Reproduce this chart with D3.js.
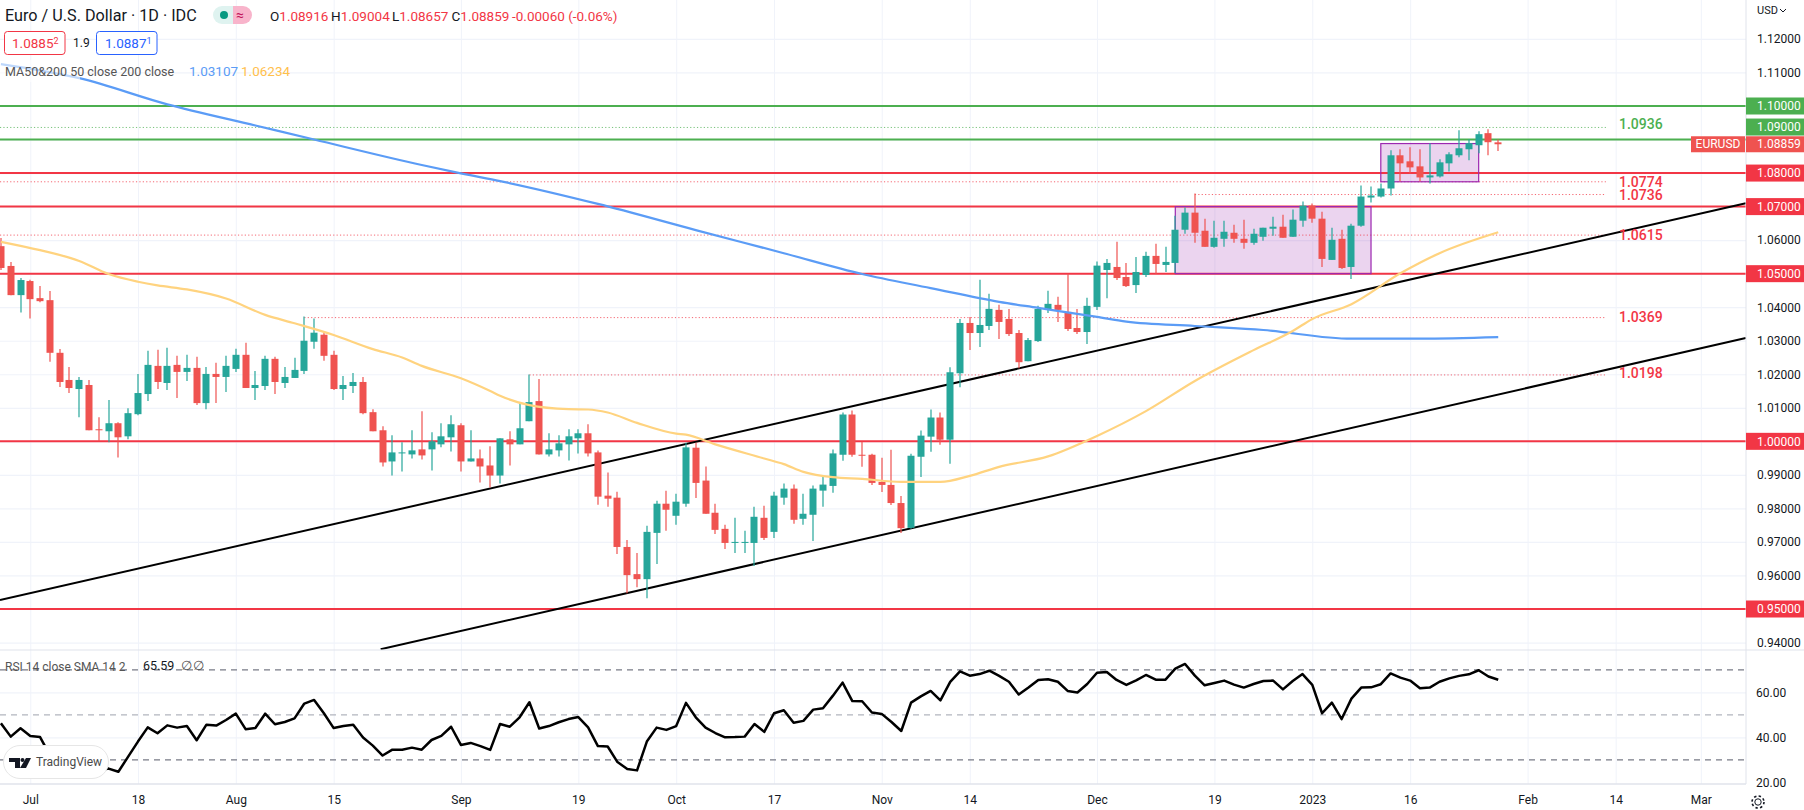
<!DOCTYPE html>
<html>
<head>
<meta charset="utf-8">
<script src="https://cdnjs.cloudflare.com/ajax/libs/d3/7.8.5/d3.min.js"></script>
<style>
html,body{margin:0;padding:0;background:#fff;overflow:hidden}
svg{display:block}
text{font-family:Roboto,"Open Sans",sans-serif}
</style>
</head>
<body>
<svg id="c" width="1804" height="810"></svg>
<script>
// ---------- DATA ----------
const firstBar = -3;           // bars are counted in trading days from 1 Jul 2022
const open = [
1.0582,1.0523,1.0436,1.0478,1.0427,1.0421,1.0264,1.0183,1.0156,1.0168,
1.0036,1.0030,1.0054,1.0015,1.0081,1.0141,1.0225,1.0174,1.0228,1.0207,
1.0219,1.0114,1.0201,1.0192,1.0216,1.0258,1.0159,1.0165,1.0246,1.0174,
1.0189,1.0210,1.0297,1.0318,1.0258,1.0156,1.0165,1.0177,1.0087,1.0033,
0.9940,0.9964,0.9961,0.9976,0.9976,0.9991,1.0012,1.0048,0.9940,0.9949,
0.9928,0.9898,1.0006,0.9991,1.0060,1.0120,0.9961,0.9973,0.9991,1.0009,
1.0024,0.9967,0.9838,0.9832,0.9685,0.9604,0.9589,0.9727,0.9814,0.9778,
0.9814,0.9981,0.9883,0.9787,0.9739,0.9697,0.9697,0.9697,0.9772,0.9730,
0.9832,0.9859,0.9769,0.9781,0.9853,0.9867,0.9960,1.0080,0.9960,0.9960,
0.9879,0.9870,0.9816,0.9742,0.9954,1.0014,1.0071,1.0005,1.0203,1.0353,
1.0323,1.0344,1.0392,1.0365,1.0323,1.0239,1.0299,1.0392,1.0407,1.0386,
1.0338,1.0326,1.0401,1.0511,1.0520,1.0490,1.0466,1.0496,1.0553,1.0526,
1.0532,1.0631,1.0682,1.0628,1.0580,1.0604,1.0622,1.0604,1.0592,1.0610,
1.0634,1.0640,1.0610,1.0658,1.0703,1.0664,1.0541,1.0604,1.0520,1.0643,
1.0727,1.0730,1.0754,1.0853,1.0835,1.0820,1.0787,1.0790,1.0829,1.0853,
1.0871,1.0883,1.0919,1.08916];
const high = [
1.0606,1.0535,1.0487,1.0482,1.0463,1.0448,1.0275,1.0222,1.0192,1.0183,
1.0072,1.0123,1.0057,1.0099,1.0201,1.0270,1.0273,1.0279,1.0255,1.0258,
1.0252,1.0222,1.0234,1.0255,1.0276,1.0294,1.0210,1.0255,1.0252,1.0222,
1.0249,1.0372,1.0366,1.0327,1.0270,1.0195,1.0204,1.0192,1.0096,1.0045,
1.0018,0.9997,1.0033,1.0090,1.0027,1.0054,1.0078,1.0054,1.0033,0.9976,
0.9985,1.0009,1.0030,1.0114,1.0199,1.0186,1.0024,1.0018,1.0036,1.0036,
1.0051,0.9973,0.9907,0.9850,0.9706,0.9667,0.9748,0.9823,0.9853,0.9844,
0.9996,0.9996,0.9925,0.9814,0.9751,0.9772,0.9733,0.9805,0.9808,0.9850,
0.9874,0.9871,0.9844,0.9868,0.9898,0.9976,1.0086,1.0092,0.9999,0.9963,
0.9951,0.9975,0.9837,0.9963,1.0032,1.0095,1.0086,1.0221,1.0365,1.0371,
1.0482,1.0440,1.0407,1.0395,1.0332,1.0308,1.0404,1.0449,1.0431,1.0500,
1.0395,1.0428,1.0536,1.0544,1.0595,1.0532,1.0550,1.0565,1.0589,1.0580,
1.0673,1.0697,1.0739,1.0664,1.0658,1.0658,1.0646,1.0661,1.0634,1.0637,
1.0670,1.0676,1.0691,1.0715,1.0709,1.0685,1.0637,1.0631,1.0649,1.0763,
1.0760,1.0769,1.0868,1.0871,1.0877,1.0871,1.0889,1.0841,1.0862,1.0928,
1.0901,1.0925,1.0931,1.09004];
const low = [
1.0511,1.0436,1.0384,1.0366,1.0415,1.0237,1.0162,1.0144,1.0072,1.0033,
1.0000,0.9997,0.9952,1.0006,1.0078,1.0120,1.0156,1.0153,1.0129,1.0180,
1.0108,1.0096,1.0114,1.0147,1.0207,1.0159,1.0123,1.0153,1.0141,1.0159,
1.0189,1.0201,1.0276,1.0240,1.0153,1.0123,1.0144,1.0081,1.0030,0.9925,
0.9898,0.9910,0.9949,0.9946,0.9913,0.9982,0.9970,0.9910,0.9940,0.9877,
0.9862,0.9874,0.9928,0.9991,1.0060,0.9961,0.9955,0.9955,0.9943,0.9964,
0.9955,0.9811,0.9805,0.9664,0.9547,0.9565,0.9532,0.9634,0.9733,0.9751,
0.9805,0.9831,0.9784,0.9724,0.9679,0.9667,0.9667,0.9628,0.9706,0.9712,
0.9811,0.9754,0.9751,0.9703,0.9805,0.9847,0.9942,0.9954,0.9924,0.9870,
0.9849,0.9810,0.9727,0.9739,0.9894,0.9969,0.9990,0.9933,1.0161,1.0272,
1.0281,1.0332,1.0305,1.0314,1.0218,1.0239,1.0296,1.0383,1.0356,1.0329,
1.0320,1.0290,1.0392,1.0427,1.0481,1.0460,1.0442,1.0490,1.0499,1.0505,
1.0502,1.0619,1.0592,1.0580,1.0577,1.0580,1.0592,1.0574,1.0586,1.0598,
1.0613,1.0607,1.0610,1.0640,1.0652,1.0520,1.0541,1.0514,1.0484,1.0640,
1.0712,1.0727,1.0733,1.0775,1.0799,1.0775,1.0769,1.0787,1.0805,1.0847,
1.0838,1.0859,1.0853,1.08657];
const close = [
1.0517,1.0436,1.0481,1.0424,1.0418,1.0264,1.0177,1.0159,1.0183,1.0033,
1.0033,1.0054,1.0012,1.0084,1.0144,1.0228,1.0177,1.0225,1.0207,1.0219,
1.0114,1.0201,1.0192,1.0225,1.0258,1.0159,1.0168,1.0246,1.0177,1.0192,
1.0213,1.0300,1.0324,1.0255,1.0156,1.0168,1.0177,1.0084,1.0030,0.9937,
0.9967,0.9967,0.9973,0.9958,1.0000,1.0015,1.0051,0.9940,0.9949,0.9925,
0.9898,1.0009,0.9991,1.0039,1.0117,0.9961,0.9976,0.9994,1.0015,1.0024,
0.9964,0.9835,0.9829,0.9685,0.9601,0.9589,0.9730,0.9814,0.9796,0.9820,
0.9982,0.9876,0.9784,0.9736,0.9697,0.9700,0.9700,0.9775,0.9712,0.9838,
0.9859,0.9766,0.9784,0.9859,0.9871,0.9964,1.0080,0.9960,0.9957,0.9876,
0.9870,0.9816,0.9741,0.9957,1.0017,1.0071,1.0005,1.0206,1.0353,1.0323,
1.0347,1.0395,1.0356,1.0320,1.0236,1.0302,1.0395,1.0410,1.0392,1.0335,
1.0326,1.0404,1.0524,1.0532,1.0487,1.0463,1.0505,1.0553,1.0529,1.0535,
1.0631,1.0682,1.0622,1.0580,1.0607,1.0625,1.0604,1.0592,1.0619,1.0637,
1.0640,1.0607,1.0661,1.0703,1.0664,1.0544,1.0601,1.0517,1.0643,1.0730,
1.0733,1.0754,1.0853,1.0829,1.0817,1.0787,1.0793,1.0832,1.0856,1.0874,
1.0889,1.0916,1.0892,1.08859];
const rsi = [
46.2,40.3,44.0,40.6,40.1,32.1,29.2,28.1,28.4,24.7,
25.2,26.1,24.7,31.4,38.1,44.4,41.8,45.3,44.3,45.0,
38.7,45.6,45.2,47.7,50.5,43.6,44.1,50.5,45.8,46.8,
48.4,55.0,56.6,50.7,44.1,45.0,45.6,39.9,36.3,31.9,
34.5,34.5,35.4,34.5,38.8,40.6,44.7,36.6,37.5,36.1,
34.4,45.9,44.7,48.9,55.6,43.9,45.0,46.7,48.1,49.0,
44.4,36.1,35.9,29.0,25.9,25.3,38.1,44.3,43.3,45.0,
55.3,48.9,44.3,41.9,40.0,40.1,40.3,45.9,42.4,50.7,
52.0,46.5,47.3,52.3,52.9,58.4,64.3,56.1,56.0,51.0,
50.4,46.8,42.8,55.4,58.2,60.6,56.4,64.6,69.3,67.4,
68.1,69.6,67.3,64.7,59.0,62.1,65.5,65.8,64.7,60.6,
59.9,63.7,68.7,69.0,65.5,63.3,65.3,67.7,65.6,65.6,
70.5,72.6,67.4,63.1,64.1,65.2,63.4,62.1,63.7,65.0,
65.2,61.3,65.0,68.1,63.3,50.7,55.4,48.1,57.2,62.1,
62.2,63.6,68.4,66.5,65.2,61.8,62.1,64.7,66.2,67.3,
68.0,69.8,67.0,65.59];

const ma200Bars = [-3,5,14,23,29,40,44,48,58,68,77,85,92,99,103,109,112,119,126,135,142,150];
const ma200 = [1.1125,1.1083,1.1005,1.0942,1.0900,1.0824,1.0799,1.0776,1.0708,1.0630,1.0561,1.0499,1.0457,1.0416,1.0398,1.0371,1.0357,1.0344,1.0332,1.0306,1.0306,1.03107];
const ma50Bars = [-3,1,5,8,11,13,16,20,24,27,31,35,38,40,44,47,48,51,55,57,59,62,66,67,70,75,77,79,82,85,89,93,96,99,104,109,114,119,125,129,131,135,140,144,150];
const ma50 = [1.0595,1.0570,1.0538,1.0499,1.0476,1.0465,1.0453,1.0426,1.0377,1.0352,1.0317,1.0275,1.0250,1.0225,1.0188,1.0150,1.0136,1.0108,1.0096,1.0095,1.0086,1.0055,1.0023,1.0020,0.9991,0.9949,0.9932,0.9909,0.9893,0.9888,0.9879,0.9879,0.9897,0.9924,0.9955,1.0016,1.0090,1.0180,1.0272,1.0329,1.0365,1.0409,1.0501,1.0561,1.06234];

const redLevels = [1.08,1.07,1.05,1.00,0.95];
const greenLevels = [1.10,1.09];
const dottedLevels = [1.0936,1.0774,1.0736,1.0615,1.0369,1.0198];
const dottedStartBars = [-3.1,-3.1,119,-3.1,28,51];
const dottedEndBar = 161;
const dottedColors = ["#4caf50","#f23645","#f23645","#f23645","#f23645","#f23645"];
const labelNudge = [-3,0,1,0,0,-2];
const trendBars = [[-3.1,175.3],[35.8,175.3]];
const trendPrices = [[0.9527,1.0710],[0.9380,1.0308]];
const zoneBars = [[117,137],[138,148]];
const zonePrices = [[1.07,1.05],[1.0888,1.0774]];

const priceTicks = d3.range(94,113).map(d=>d/100);
const boxedTicks = [1.10,1.09,1.08,1.07,1.05,1.00,0.95];
const rsiTicks = [60,40,20];
const rsiBands = [70,50,30];
const timeBars = [0,11,21,31,44,56,66,76,87,96,109,121,131,141,153,162,170.7];
const timeLabels = ["Jul","18","Aug","15","Sep","19","Oct","17","Nov","14","Dec","19","2023","16","Feb","14","Mar"];
const lastPrice = 1.08859;

// ---------- SCALES ----------
const svg = d3.select("#c");
const W=1804,H=810,axisX=1746,paneBot=650,rsiBot=784;
const x = d3.scaleLinear().domain([0,131]).range([30.3,1312.3]);
const y = d3.scaleLinear().domain([0.95,1.10]).range([609,106]);
const yr = d3.scaleLinear().domain([40,60]).range([737.3,692.3]);
const RED="#f23645",GREEN="#4caf50",UP="#26a69a",DOWN="#ef5350",GRID="#f0f3fa",TXT="#131722";

svg.append("clipPath").attr("id","cm").append("rect").attr("x",0).attr("y",0).attr("width",axisX).attr("height",paneBot);
svg.append("clipPath").attr("id","cr").append("rect").attr("x",0).attr("y",paneBot).attr("width",axisX).attr("height",rsiBot-paneBot);

// grid through axes
const gGrid = svg.append("g");
gGrid.append("g")
  .call(d3.axisRight(y).tickValues(priceTicks).tickSize(axisX).tickFormat(""))
  .call(g=>{g.select(".domain").remove();g.selectAll("line").attr("stroke",GRID).attr("stroke-width",1.2);});
gGrid.append("g")
  .call(d3.axisRight(yr).tickValues([60,40]).tickSize(axisX).tickFormat(""))
  .call(g=>{g.select(".domain").remove();g.selectAll("line").attr("stroke",GRID).attr("stroke-width",1.2);});
gGrid.append("g").attr("transform",`translate(0,${rsiBot})`)
  .call(d3.axisTop(x).tickValues(timeBars).tickSize(rsiBot).tickFormat(""))
  .call(g=>{g.select(".domain").remove();g.selectAll("line").attr("stroke",GRID).attr("stroke-width",1);});

// main pane
const main = svg.append("g").attr("clip-path","url(#cm)");

// zones under candles
main.selectAll(".zone").data(zoneBars).join("rect").attr("class","zone")
  .attr("x",d=>x(d[0])).attr("width",d=>x(d[1])-x(d[0]))
  .attr("y",(d,i)=>y(zonePrices[i][0])).attr("height",(d,i)=>y(zonePrices[i][1])-y(zonePrices[i][0]))
  .attr("fill","rgba(156,39,176,0.2)");

// levels
main.selectAll(".red").data(redLevels).join("line").attr("class","red")
  .attr("x1",0).attr("x2",axisX).attr("y1",d=>y(d)).attr("y2",d=>y(d))
  .attr("stroke",RED).attr("stroke-width",2);
main.selectAll(".green").data(greenLevels).join("line").attr("class","green")
  .attr("x1",0).attr("x2",axisX).attr("y1",d=>y(d)).attr("y2",d=>y(d))
  .attr("stroke",GREEN).attr("stroke-width",2);
main.selectAll(".dot").data(dottedLevels).join("line").attr("class","dot")
  .attr("x1",(d,i)=>x(dottedStartBars[i])).attr("x2",x(dottedEndBar))
  .attr("y1",d=>y(d)).attr("y2",d=>y(d))
  .attr("stroke",(d,i)=>dottedColors[i]).attr("stroke-width",1).attr("stroke-dasharray","1.2,2.2").attr("opacity",0.75);
main.selectAll(".zoneb").data(zoneBars).join("rect").attr("class","zoneb")
  .attr("x",d=>x(d[0])).attr("width",d=>x(d[1])-x(d[0]))
  .attr("y",(d,i)=>y(zonePrices[i][0])).attr("height",(d,i)=>y(zonePrices[i][1])-y(zonePrices[i][0]))
  .attr("fill","none").attr("stroke","#9c27b0").attr("stroke-width",1.2);

// trend lines
main.selectAll(".trend").data(trendBars).join("line").attr("class","trend")
  .attr("x1",d=>x(d[0])).attr("x2",d=>x(d[1]))
  .attr("y1",(d,i)=>y(trendPrices[i][0])).attr("y2",(d,i)=>y(trendPrices[i][1]))
  .attr("stroke","#000").attr("stroke-width",2);

// candles
const bars = d3.range(open.length);
const bx = i=>x(i+firstBar);
main.selectAll(".wick").data(bars).join("line").attr("class","wick")
  .attr("x1",i=>Math.round(bx(i))).attr("x2",i=>Math.round(bx(i)))
  .attr("y1",i=>y(high[i])).attr("y2",i=>y(low[i]))
  .attr("stroke",i=>close[i]>=open[i]?UP:DOWN).attr("stroke-width",1.2);
main.selectAll(".body").data(bars).join("rect").attr("class","body")
  .attr("x",i=>Math.round(bx(i))-3.5).attr("width",7)
  .attr("y",i=>y(Math.max(open[i],close[i])))
  .attr("height",i=>Math.max(1,Math.abs(y(open[i])-y(close[i]))))
  .attr("fill",i=>close[i]>=open[i]?UP:DOWN);

// moving averages
const ln = d3.line().curve(d3.curveMonotoneX);
main.append("path").attr("d",ln(ma200Bars.map((b,i)=>[x(b),y(ma200[i])])))
  .attr("fill","none").attr("stroke","#5b9cf6").attr("stroke-width",2.2);
main.append("path").attr("d",ln(ma50Bars.map((b,i)=>[x(b),y(ma50[i])])))
  .attr("fill","none").attr("stroke","#ffd37f").attr("stroke-width",2.2);

// level labels
main.selectAll(".lvl").data(dottedLevels).join("text").attr("class","lvl")
  .attr("x",1619).attr("y",(d,i)=>y(d)+labelNudge[i]).attr("dy","0.35em")
  .attr("fill",(d,i)=>dottedColors[i]).attr("font-size",14).attr("font-weight",500)
  .text(d=>d.toFixed(4));

// RSI pane
const rsiG = svg.append("g").attr("clip-path","url(#cr)");
rsiG.selectAll(".band").data(rsiBands).join("line").attr("class","band")
  .attr("x1",0).attr("x2",axisX).attr("y1",d=>yr(d)).attr("y2",d=>yr(d))
  .attr("stroke",(d,i)=>i==1?"#b2b5be":"#787b86").attr("stroke-width",1.2).attr("stroke-dasharray","6,5");
rsiG.append("path").attr("d",d3.line().x((d,i)=>bx(i)).y(d=>yr(d))(rsi))
  .attr("fill","none").attr("stroke","#000").attr("stroke-width",2.5).attr("stroke-linejoin","round");

// frame
svg.append("line").attr("x1",axisX).attr("x2",axisX).attr("y1",0).attr("y2",rsiBot).attr("stroke","#e0e3eb");
svg.append("line").attr("x1",0).attr("x2",W).attr("y1",paneBot).attr("y2",paneBot).attr("stroke","#e0e3eb");
svg.append("line").attr("x1",0).attr("x2",axisX).attr("y1",rsiBot).attr("y2",rsiBot).attr("stroke","#e0e3eb").attr("stroke-width",1.5);

// price axis
svg.append("g").attr("transform",`translate(${axisX},0)`)
  .call(d3.axisRight(y).tickValues(priceTicks.filter(t=>!boxedTicks.some(b=>Math.abs(b-t)<1e-9))).tickSize(0).tickPadding(11).tickFormat(d3.format(".5f")))
  .call(g=>{g.select(".domain").remove();g.selectAll("text").attr("font-size",12).attr("fill",TXT).attr("font-family","Roboto");});
const boxOffset = {1.09:-12.5};
const bxG = svg.append("g").selectAll("g").data(boxedTicks).join("g")
  .attr("transform",d=>`translate(${axisX},${y(d)+(boxOffset[d]||0)})`);
bxG.append("rect").attr("x",0).attr("y",-8.5).attr("width",W-axisX).attr("height",17)
  .attr("fill",d=>d>=1.09?GREEN:RED);
bxG.append("text").attr("x",11).attr("dy","0.35em").attr("fill","#fff").attr("font-size",12).text(d=>d3.format(".5f")(d));
const lp = svg.append("g").attr("transform",`translate(0,${y(lastPrice)})`);
lp.append("rect").attr("x",1691).attr("y",-8).attr("width",54).attr("height",16).attr("fill",DOWN);
lp.append("rect").attr("x",axisX).attr("y",-8).attr("width",W-axisX).attr("height",16).attr("fill",DOWN);
lp.append("text").attr("x",1718).attr("dy","0.35em").attr("text-anchor","middle").attr("fill","#fff").attr("font-size",12).text("EURUSD");
lp.append("text").attr("x",axisX+11).attr("dy","0.35em").attr("fill","#fff").attr("font-size",12).text(d3.format(".5f")(lastPrice));
svg.append("text").attr("x",1757).attr("y",14).attr("font-size",11).attr("fill",TXT).text("USD");
svg.append("path").attr("d","M1780 9l3 3 3-3").attr("fill","none").attr("stroke",TXT);

// rsi axis
svg.append("g").attr("transform",`translate(${axisX},0)`)
  .call(d3.axisRight(yr).tickValues(rsiTicks).tickSize(0).tickPadding(10).tickFormat(d3.format(".2f")))
  .call(g=>{g.select(".domain").remove();g.selectAll("text").attr("font-size",12).attr("fill",TXT).attr("font-family","Roboto");});

// time axis
svg.append("g").attr("transform",`translate(0,${rsiBot})`)
  .call(d3.axisBottom(x).tickValues(timeBars).tickSize(0).tickPadding(11).tickFormat((d,i)=>timeLabels[i]))
  .call(g=>{g.select(".domain").remove();g.selectAll("text").attr("font-size",12).attr("fill",TXT).attr("font-family","Roboto");});

// gear
svg.append("circle").attr("cx",1758).attr("cy",802).attr("r",3.2).attr("fill","none").attr("stroke",TXT).attr("stroke-width",1);
svg.append("circle").attr("cx",1758).attr("cy",802).attr("r",6).attr("fill","none").attr("stroke",TXT).attr("stroke-width",1.6).attr("stroke-dasharray","2.4,2.3");

// legend
const T = (xx,yy,s,c,fs)=>svg.append("text").attr("x",xx).attr("y",yy).attr("fill",c).attr("font-size",fs).text(s);
T(5,21,"Euro / U.S. Dollar · 1D · IDC",TXT,16.2);
svg.append("path").attr("d","M222 6H233V24H222a9 9 0 0 1 0-18Z").attr("fill","#dff3f0");
svg.append("path").attr("d","M233 6H243a9 9 0 0 1 0 18H233Z").attr("fill","#f8b4cb");
svg.append("circle").attr("cx",224).attr("cy",15).attr("r",4).attr("fill","#089981");
T(236,20,"≈","#c2185b",14);
const ohlc=[["O","1.08916",270],["H","1.09004",331],["L","1.08657",392],["C","1.08859",451.5]];
ohlc.forEach(o=>{const t=T(o[2],21,o[0],TXT,13.5);t.append("tspan").attr("fill",RED).text(o[1]);});
T(512,21,"-0.00060 (-0.06%)",RED,13.5);
svg.append("rect").attr("x",4.5).attr("y",31.5).attr("width",60.5).attr("height",23).attr("rx",3).attr("fill","#fff").attr("stroke",RED);
{const t=T(12,48,"1.0885",RED,13.5);t.append("tspan").attr("dy",-4).attr("font-size",9).text("2");}
T(73,47,"1.9",TXT,12);
svg.append("rect").attr("x",96.5).attr("y",31.5).attr("width",60.5).attr("height",23).attr("rx",3).attr("fill","#fff").attr("stroke","#2962ff");
{const t=T(105,48,"1.0887","#2962ff",13.5);t.append("tspan").attr("dy",-4).attr("font-size",9).text("1");}
svg.append("rect").attr("x",0).attr("y",60).attr("width",80).attr("height",22).attr("fill","rgba(255,255,255,0.6)");
T(5,76,"MA50&200 50 close 200 close","#555",12.5);
T(189,76,"1.03107","#5b9cf6",13.5);
T(241,76,"1.06234","#ffc04d",13.5);
T(5,671,"RSI 14 close SMA 14 2","#555",12);
T(143,670,"65.59",TXT,12.5);
T(181,670,"∅","#555",12.5);
T(193,670,"∅","#555",12.5);

// logo
svg.append("rect").attr("x",3.5).attr("y",745.5).attr("width",105).attr("height",33).attr("rx",16.5).attr("fill","#fff").attr("stroke","#e6e6e6");
svg.append("path").attr("d","M9 758H20V768H15V762H9Z").attr("fill","#131722");
svg.append("circle").attr("cx",22.5).attr("cy",760).attr("r",2).attr("fill","#131722");
svg.append("path").attr("d","M26 758H31L26 768H20Z").attr("fill","#131722");
T(36,766,"TradingView","#4a4a4a",12);
</script>
</body>
</html>
